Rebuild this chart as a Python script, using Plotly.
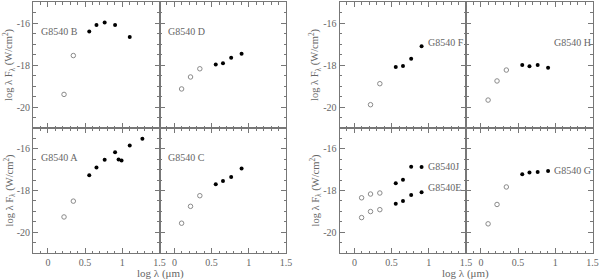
import plotly.graph_objects as go

# ---------------- data ----------------
nir_x = [0.097, 0.217, 0.342]
irac_x = [0.556, 0.653, 0.763, 0.903]

B_open_x = [0.217, 0.342]
B_open_y = [-19.4, -17.55]
B_fill_x = [0.556, 0.653, 0.763, 0.903, 1.1]
B_fill_y = [-16.4, -16.1, -15.98, -16.1, -16.67]

D_open_y = [-19.14, -18.57, -18.18]
D_fill_y = [-17.98, -17.92, -17.65, -17.46]

A_open_x = [0.217, 0.342]
A_open_y = [-19.27, -18.51]
A_fill_x = [0.556, 0.653, 0.763, 0.903, 0.95, 0.99, 1.1, 1.27]
A_fill_y = [-17.27, -16.89, -16.52, -16.16, -16.51, -16.56, -15.84, -15.51]

C_open_y = [-19.57, -18.76, -18.25]
C_fill_y = [-17.7, -17.54, -17.35, -16.94]

F_open_x = [0.217, 0.342]
F_open_y = [-19.89, -18.89]
F_fill_y = [-18.1, -18.05, -17.7, -17.11]

H_open_y = [-19.67, -18.76, -18.24]
H_fill_y = [-18.0, -18.06, -18.0, -18.13]

J_open_y = [-18.35, -18.17, -18.12]
J_fill_y = [-17.65, -17.48, -16.86, -16.87]
E_open_y = [-19.3, -19.01, -18.92]
E_fill_y = [-18.63, -18.5, -18.22, -18.08]

G_open_y = [-19.6, -18.67, -17.83]
G_fill_y = [-17.22, -17.14, -17.11, -17.06]

x_tickvals = [0, 0.5, 1, 1.5]
x_ticktext = ["0", "0.5", "1", "1.5"]
y_tickvals = [-20, -18, -16]
y_ticktext = ["-20", "-18", "-16"]

# ---------------- layout geometry ----------------
W, H = 600, 280
col_px = [(33, 159.5), (159.5, 286), (339.5, 466), (466, 592.5)]
row_px = [(2, 128), (128, 253)]  # top, bottom (pixels from top)

GRAY = "#777777"
TXT = "#666666"
FONT = "Liberation Serif"

fig = go.Figure()

panels = [
    (0, 0, [(B_open_x, B_open_y, B_fill_x, B_fill_y)], [("G8540 B", -0.1, -16.4)]),
    (0, 1, [(nir_x, D_open_y, irac_x, D_fill_y)], [("G8540 D", -0.1, -16.4)]),
    (1, 0, [(A_open_x, A_open_y, A_fill_x, A_fill_y)], [("G8540 A", -0.1, -16.4)]),
    (1, 1, [(nir_x, C_open_y, irac_x, C_fill_y)], [("G8540 C", -0.1, -16.4)]),
    (0, 2, [(F_open_x, F_open_y, irac_x, F_fill_y)], [("G8540 F", 0.97, -16.95)]),
    (0, 3, [(nir_x, H_open_y, irac_x, H_fill_y)], [("G8540 H", 0.97, -16.95)]),
    (1, 2, [(nir_x, J_open_y, irac_x, J_fill_y), (nir_x, E_open_y, irac_x, E_fill_y)],
     [("G8540J", 0.97, -16.87), ("G8540E", 0.97, -17.85)]),
    (1, 3, [(nir_x, G_open_y, irac_x, G_fill_y)], [("G8540 G", 0.97, -17.05)]),
]

for i, (r, c, series, labels) in enumerate(panels):
    n = i + 1
    xa = "x" if n == 1 else f"x{n}"
    ya = "y" if n == 1 else f"y{n}"
    for ox, oy, fx, fy in series:
        fig.add_trace(go.Scatter(x=ox, y=oy, mode="markers", xaxis=xa, yaxis=ya,
                                 marker=dict(symbol="circle-open", size=4.5, color="#8a8a8a",
                                             line=dict(width=1, color="#8a8a8a")),
                                 showlegend=False, hoverinfo="skip"))
        fig.add_trace(go.Scatter(x=fx, y=fy, mode="markers", xaxis=xa, yaxis=ya,
                                 marker=dict(symbol="circle", size=4, color="black"),
                                 showlegend=False, hoverinfo="skip"))
    for txt, lx, ly in labels:
        fig.add_annotation(x=lx, y=ly, xref=xa, yref=ya, text=txt, showarrow=False,
                           xanchor="left", yanchor="middle", borderpad=0,
                           font=dict(family=FONT, size=10, color=TXT))

    x0, x1 = col_px[c]
    y0, y1 = row_px[r]
    common = dict(showline=True, linecolor=GRAY, linewidth=1, mirror="allticks",
                  ticks="inside", tickcolor=GRAY, ticklen=5, tickwidth=1,
                  showgrid=False, zeroline=False, fixedrange=True, automargin=False,
                  tickfont=dict(family=FONT, size=10, color=TXT))
    xkey = "xaxis" if n == 1 else f"xaxis{n}"
    ykey = "yaxis" if n == 1 else f"yaxis{n}"
    fig.layout[xkey] = dict(
        common, domain=[x0 / W, x1 / W], range=[-0.2, 1.5], anchor=ya,
        tickmode="array", tickvals=x_tickvals, ticktext=x_ticktext,
        showticklabels=(r == 1),
        minor=dict(ticks="inside", ticklen=2.5, tickcolor=GRAY, dtick=0.1, tick0=0, showgrid=False),
    )
    fig.layout[ykey] = dict(
        common, domain=[1 - y1 / H, 1 - y0 / H], range=[-21, -15], anchor=xa,
        tickmode="array", tickvals=y_tickvals, ticktext=y_ticktext,
        showticklabels=(c in (0, 2)),
        minor=dict(ticks="inside", ticklen=2.5, tickcolor=GRAY, dtick=0.5, tick0=0, showgrid=False),
    )

# axis titles
ytitle = "log λ F<sub>λ</sub> (W/cm<sup>2</sup>)"
for xpix in (9, 315):
    for (y0, y1) in row_px:
        fig.add_annotation(x=xpix / W, y=1 - (y0 + y1) / 2 / H, xref="paper", yref="paper",
                           text=ytitle, textangle=-90, showarrow=False,
                           xanchor="center", yanchor="middle", borderpad=0,
                           font=dict(family=FONT, size=10.5, color=TXT))
for xc in (160, 466):
    fig.add_annotation(x=xc / W, y=1 - 273.5 / H, xref="paper", yref="paper",
                       text="log λ (μm)", showarrow=False, xanchor="center", yanchor="middle",
                       borderpad=0, font=dict(family=FONT, size=11, color=TXT))

fig.update_layout(width=W, height=H, margin=dict(l=0, r=0, t=0, b=0, autoexpand=False),
                  paper_bgcolor="white", plot_bgcolor="white")

fig.write_html("out.html", config={"displayModeBar": False, "staticPlot": True},
               post_script="document.body.style.margin='0';document.body.style.padding='0';"
                           "document.documentElement.style.overflow='hidden';")
